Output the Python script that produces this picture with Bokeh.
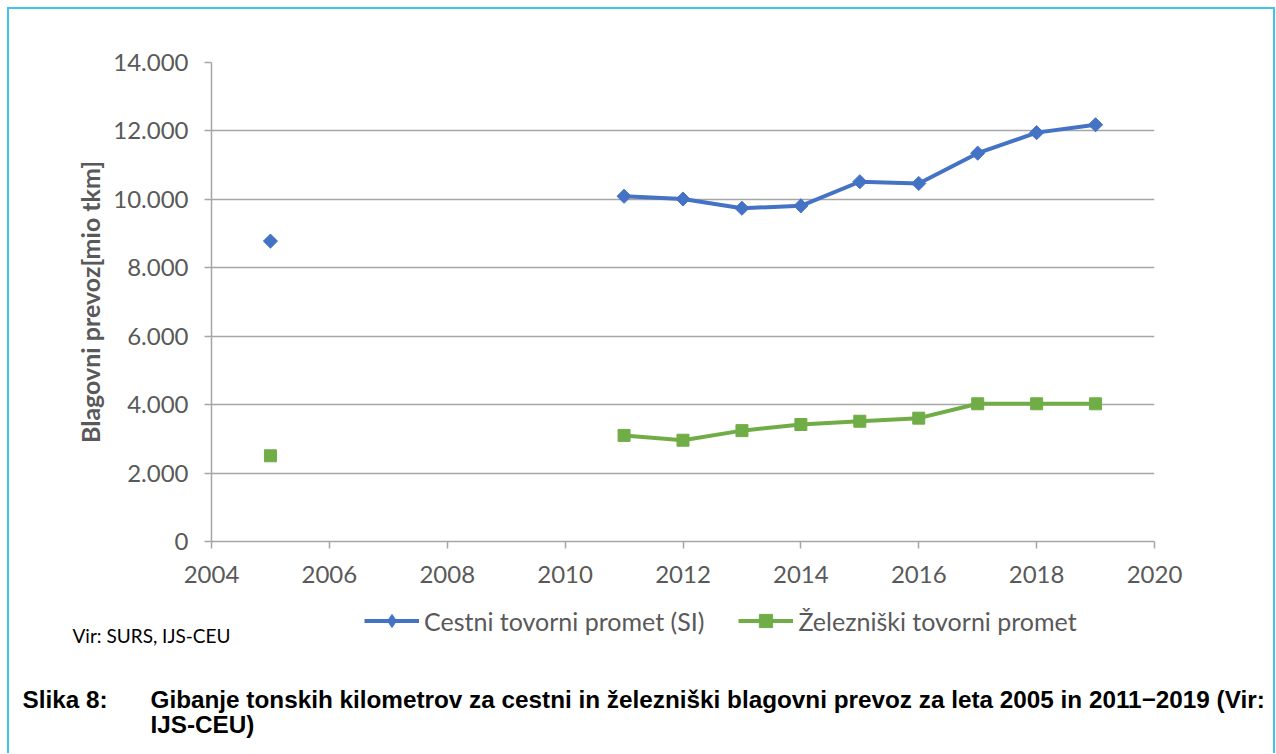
import numpy as np
from bokeh.plotting import figure
from bokeh.layouts import column
from bokeh.models import Range1d, FixedTicker, Legend, LegendItem, Label, InlineStyleSheet
from bokeh.embed import file_html
from bokeh.resources import INLINE

# ---- data ----
years = [2005, 2006, 2007, 2008, 2009, 2010, 2011, 2012, 2013, 2014, 2015, 2016, 2017, 2018, 2019]
cestni = [8780, None, None, None, None, None, 10090, 10010, 9740, 9810, 10515, 10465, 11350, 11950, 12180]
zelezniski = [2505, None, None, None, None, None, 3100, 2960, 3240, 3420, 3515, 3605, 4025, 4025, 4025]
series_names = ["Cestni tovorni promet (SI)", "Železniški tovorni promet"]
x_ticks = [2004, 2006, 2008, 2010, 2012, 2014, 2016, 2018, 2020]
y_ticks = [0, 2000, 4000, 6000, 8000, 10000, 12000, 14000]
y_tick_labels = ["0", "2.000", "4.000", "6.000", "8.000", "10.000", "12.000", "14.000"]
y_title = "Blagovni prevoz[mio tkm]"
source_note = "Vir: SURS, IJS-CEU"
caption_head = "Slika 8:"
caption_line1 = "Gibanje tonskih kilometrov za cestni in železniški blagovni prevoz za leta 2005 in 2011\u22122019 (Vir:"
caption_line2 = "IJS-CEU)"

c_vals = np.array([np.nan if v is None else v for v in cestni], dtype=float)
z_vals = np.array([np.nan if v is None else v for v in zelezniski], dtype=float)

FONT = "Lato"
GRAY_TXT = "#595959"
GRID = "#a6a6a6"
BLUE = "#4472C4"
GREEN = "#70AD47"
W = 1264
H1 = 590
H2 = 154

p = figure(width=W, height=H1,
           x_range=Range1d(2004, 2020), y_range=Range1d(0, 14000),
           output_backend="svg", toolbar_location=None,
           min_border_left=202, min_border_right=119,
           min_border_top=53, min_border_bottom=58)
p.frame_align = False
p.outline_line_color = None
p.background_fill_color = "white"
p.border_fill_color = "white"

p.xgrid.visible = False
p.ygrid.grid_line_color = GRID
p.ygrid.grid_line_width = 1.5
p.ygrid.ticker = FixedTicker(ticks=y_ticks)

for ax in (p.xaxis[0], p.yaxis[0]):
    ax.axis_line_color = GRID
    ax.axis_line_width = 1.5
    ax.major_tick_line_color = GRID
    ax.major_tick_line_width = 1.5
    ax.major_tick_out = 7
    ax.major_tick_in = 0
    ax.minor_tick_line_color = None
    ax.major_label_text_font = FONT
    ax.major_label_text_font_size = "24px"
    ax.major_label_text_color = GRAY_TXT

p.xaxis.ticker = FixedTicker(ticks=x_ticks)
p.xaxis.major_label_standoff = 17
p.yaxis.ticker = FixedTicker(ticks=y_ticks)
p.yaxis.major_label_overrides = {t: l for t, l in zip(y_ticks, y_tick_labels)}
p.yaxis.major_label_standoff = 16
p.yaxis.axis_label = y_title
p.yaxis.axis_label_text_font = FONT
p.yaxis.axis_label_text_font_style = "bold"
p.yaxis.axis_label_text_font_size = "25px"
p.yaxis.axis_label_text_color = GRAY_TXT
p.yaxis.axis_label_standoff = 5

p.line(years, c_vals, line_color=BLUE, line_width=4)
p.scatter(years, c_vals, marker="square", angle=np.pi / 4, size=10,
          fill_color=BLUE, line_color=BLUE)
p.line(years, z_vals, line_color=GREEN, line_width=4)
p.scatter(years, z_vals, marker="square", size=12,
          fill_color=GREEN, line_color=GREEN)

# ---- lower panel: legend, source note, caption ----
p2 = figure(width=W, height=H2, x_range=Range1d(0, 1), y_range=Range1d(0, 1),
            output_backend="svg", toolbar_location=None,
            x_axis_location=None, y_axis_location=None,
            min_border=0, min_border_left=0, min_border_right=0,
            min_border_top=0, min_border_bottom=0)
p2.frame_align = False
p2.grid.visible = False
p2.outline_line_color = None
p2.background_fill_color = "white"
p2.border_fill_color = "white"

# legend swatches (no visible data of their own)
l1 = p2.line([np.nan], [np.nan], line_color=BLUE, line_width=4)
s1 = p2.scatter([np.nan], [np.nan], marker="diamond", size=16, fill_color=BLUE, line_color=BLUE)
l2 = p2.line([np.nan], [np.nan], line_color=GREEN, line_width=4)
s2 = p2.scatter([np.nan], [np.nan], marker="square", size=12, fill_color=GREEN, line_color=GREEN)

legend = Legend(items=[LegendItem(label=series_names[0], renderers=[l1, s1]),
                       LegendItem(label=series_names[1], renderers=[l2, s2])],
                orientation="horizontal", location=(355, 116),
                glyph_width=55, glyph_height=33, label_height=24,
                label_standoff=5, spacing=34, padding=0, margin=0,
                border_line_color=None, background_fill_alpha=0,
                label_text_font=FONT, label_text_font_size="25px",
                label_text_color=GRAY_TXT)
p2.add_layout(legend, "center")

p2.add_layout(Label(x=63, y=118, x_units="screen", y_units="screen", text=source_note,
                    text_font=FONT, text_font_size="19px", text_color="black",
                    text_baseline="alphabetic"))
for txt, xx, yy in ((caption_head, 13, 54), (caption_line1, 141, 54), (caption_line2, 141, 29)):
    p2.add_layout(Label(x=xx, y=yy, x_units="screen", y_units="screen", text=txt,
                        text_font="Liberation Sans", text_font_style="bold",
                        text_font_size="24.3px", text_color="black",
                        text_baseline="alphabetic"))

layout = column(p, p2, spacing=0)
layout.stylesheets = [InlineStyleSheet(css=":host { box-sizing: content-box; margin-left: 7px; margin-top: 7px; border-top: 2px solid #41c3ef; border-left: 2px solid #41c3ef; border-right: 2px solid #41c3ef; }")]

open("out.html", "w").write(file_html(layout, INLINE))
